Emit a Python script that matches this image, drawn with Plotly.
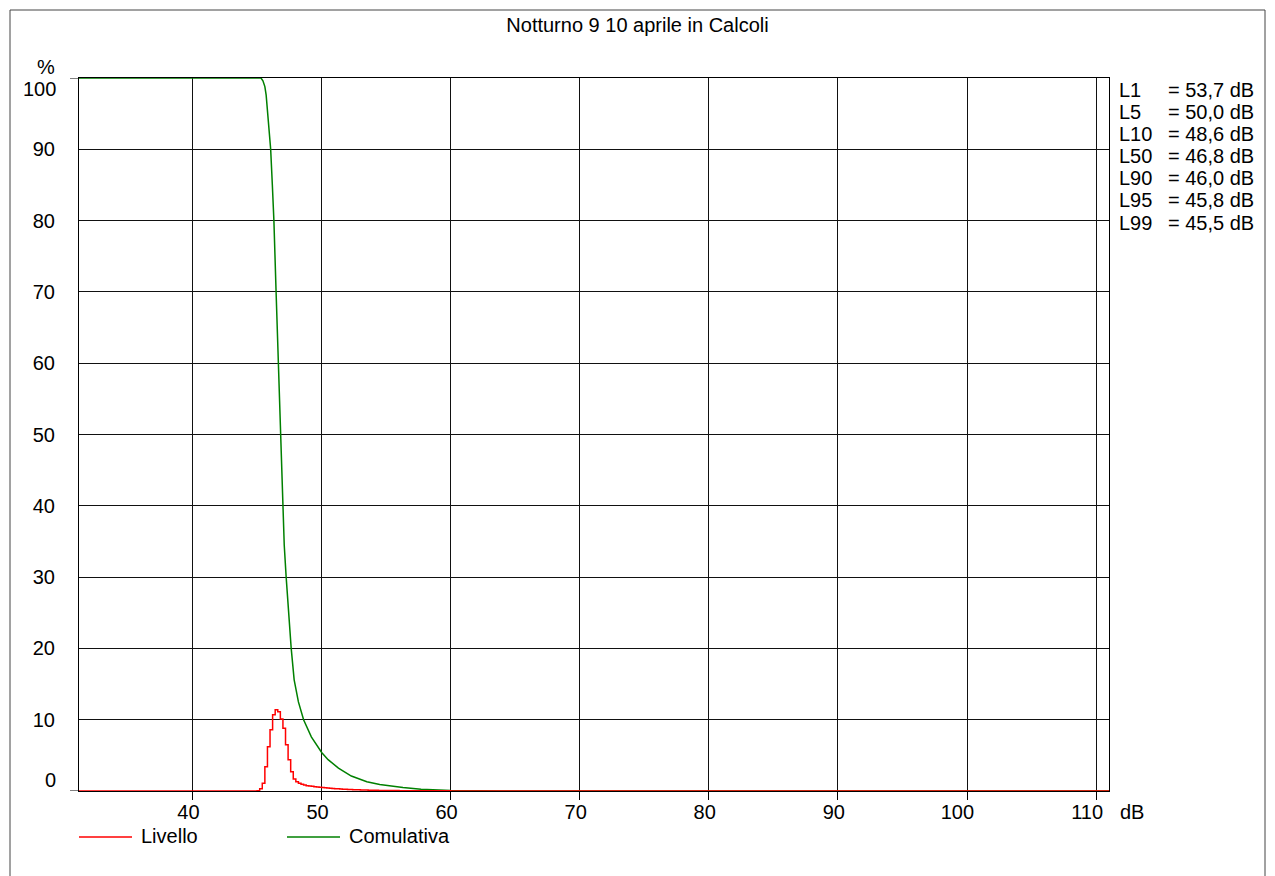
import plotly.graph_objects as go

# ---------------- data ----------------
title_text = "Notturno 9 10 aprile in Calcoli"

# Livello: distribution per 0.2 dB class (left edge of class, %)
livello_db = [31.0, 44.8, 45.0, 45.2, 45.4, 45.6, 45.8, 46.0, 46.2, 46.4, 46.6, 46.8,
              47.0, 47.2, 47.4, 47.6, 47.8, 48.0, 48.2, 48.4, 48.6, 48.8, 49.0, 49.2,
              49.4, 49.6, 49.8, 50.0, 50.2, 50.4, 50.6, 50.8, 51.0, 51.2, 51.4, 51.6,
              51.8, 52.0, 52.2, 52.4, 52.6, 52.8, 53.0, 53.2, 53.4, 53.6, 53.8, 54.0,
              54.4, 55.0, 56.0, 57.0, 58.0, 60.0, 62.0, 111.0]
livello_pct = [0.0, 0.0, 0.05, 0.3, 1.1, 3.4, 6.2, 8.6, 10.7, 11.4, 11.1, 10.1,
               8.8, 6.5, 4.4, 2.7, 1.7, 1.3, 1.1, 0.95, 0.85, 0.75, 0.7, 0.65,
               0.6, 0.55, 0.52, 0.48, 0.45, 0.42, 0.38, 0.35, 0.33, 0.3, 0.28, 0.26,
               0.24, 0.22, 0.2, 0.18, 0.17, 0.16, 0.15, 0.14, 0.13, 0.12, 0.11, 0.1,
               0.08, 0.06, 0.04, 0.03, 0.02, 0.01, 0.0, 0.0]

# Comulativa: % of time above level
comulativa_db = [31.0, 45.3, 45.45, 45.6, 45.7, 45.8, 45.92, 46.05, 46.18, 46.3, 46.47,
                 46.65, 46.8, 46.97, 47.1, 47.25, 47.45, 47.64, 47.87, 48.2, 48.6,
                 49.2, 50.0, 50.5, 51.3, 52.3, 53.5, 54.5, 56.3, 57.7, 60.0, 62.0,
                 64.0, 111.0]
comulativa_pct = [100.0, 100.0, 99.6, 98.8, 97.6, 95.5, 93.0, 90.0, 85.0, 80.0, 70.0,
                  60.0, 50.0, 40.0, 34.5, 30.0, 24.5, 20.0, 15.6, 12.5, 10.0,
                  7.6, 5.4, 4.4, 3.2, 2.1, 1.3, 0.9, 0.5, 0.25, 0.08, 0.02,
                  0.0, 0.0]

stat_names = ["L1", "L5", "L10", "L50", "L90", "L95", "L99"]
stat_values = ["53,7", "50,0", "48,6", "46,8", "46,0", "45,8", "45,5"]

x_ticks = [40, 50, 60, 70, 80, 90, 100, 110]
y_ticks = [0, 10, 20, 30, 40, 50, 60, 70, 80, 90, 100]

# ---------------- layout geometry ----------------
W, H = 1275, 876
PL, PR, PT, PB = 79, 1109, 78, 791
FONT = "Liberation Sans, Arial, Helvetica, sans-serif"
FS = 20


def px_x(px):
    return (px - PL) / (PR - PL)


def px_y(py):
    return (PB - py) / (PB - PT)


fig = go.Figure()
fig.add_trace(go.Scatter(x=comulativa_db, y=comulativa_pct, mode="lines",
                         name="Comulativa", line=dict(color="#008000", width=1.5),
                         showlegend=False, cliponaxis=True))
fig.add_trace(go.Scatter(x=livello_db, y=livello_pct, mode="lines", line_shape="hv",
                         name="Livello", line=dict(color="#ff0000", width=1.5),
                         showlegend=False, cliponaxis=True))

annotations = []


def ann(text, x, y, xanchor, yanchor="middle"):
    annotations.append(dict(text=text, x=px_x(x), y=px_y(y), xref="paper", yref="paper",
                            xanchor=xanchor, yanchor=yanchor, showarrow=False,
                            font=dict(family=FONT, size=FS, color="black")))


ann("%", 57, 67, "right")
ann("100", 58, 89, "right")
ann("0", 58, 780, "right")
ann("dB", 1118, 812, "left")
for i, (n, v) in enumerate(zip(stat_names, stat_values)):
    yy = 90 + 22.1 * i
    ann(n, 1117, yy, "left")
    ann("= " + v + " dB", 1256, yy, "right")
ann("Livello", 139, 836, "left")
ann("Comulativa", 347, 836, "left")

shapes = []
# outer frame (left, top, right)
ox0, ox1, oy0, oy1 = px_x(10), px_x(1265), px_y(880), px_y(10)
for (a, b, c, d) in [(ox0, oy0, ox0, oy1), (ox0, oy1, ox1, oy1), (ox1, oy1, ox1, oy0)]:
    shapes.append(dict(type="line", xref="paper", yref="paper", x0=a, y0=b, x1=c, y1=d,
                       line=dict(color="#444444", width=1)))
# y tick marks at 0 and 100
for yv in (0, 100):
    shapes.append(dict(type="line", xref="paper", yref="y", x0=px_x(70), x1=0, y0=yv, y1=yv,
                       line=dict(color="black", width=1)))
# legend samples
shapes.append(dict(type="line", xref="paper", yref="paper", x0=px_x(79), x1=px_x(132),
                   y0=px_y(837), y1=px_y(837), line=dict(color="#ff0000", width=1.5)))
shapes.append(dict(type="line", xref="paper", yref="paper", x0=px_x(287), x1=px_x(340),
                   y0=px_y(837), y1=px_y(837), line=dict(color="#008000", width=1.5)))

fig.update_layout(
    width=W, height=H,
    margin=dict(l=PL, r=W - PR, t=PT, b=H - PB, pad=0),
    paper_bgcolor="white", plot_bgcolor="white",
    font=dict(family=FONT, size=FS, color="black"),
    title=dict(text=title_text, x=0.5, xref="container", xanchor="center",
               y=1 - 25 / H, yref="container", yanchor="middle",
               font=dict(family=FONT, size=FS, color="black")),
    showlegend=False,
    annotations=annotations,
    shapes=shapes,
)
fig.update_xaxes(range=[31.2, 111.0], tickvals=x_ticks, ticktext=[str(v) for v in x_ticks],
                 showgrid=True, gridcolor="#111111", gridwidth=1, zeroline=False,
                 showline=True, linecolor="black", linewidth=1, mirror=True,
                 ticks="outside", ticklen=8, tickcolor="black", tickwidth=1,
                 ticklabelposition="outside left", ticklabelshift=8, ticklabelstandoff=3,
                 tickfont=dict(family=FONT, size=FS, color="black"))
fig.update_yaxes(range=[0, 100], tickvals=y_ticks,
                 ticktext=["" if v in (0, 100) else str(v) for v in y_ticks],
                 showgrid=True, gridcolor="#111111", gridwidth=1, zeroline=False,
                 showline=True, linecolor="black", linewidth=1, mirror=True,
                 ticks="", ticklabelstandoff=19,
                 tickfont=dict(family=FONT, size=FS, color="black"))

fig.write_html("out.html")
